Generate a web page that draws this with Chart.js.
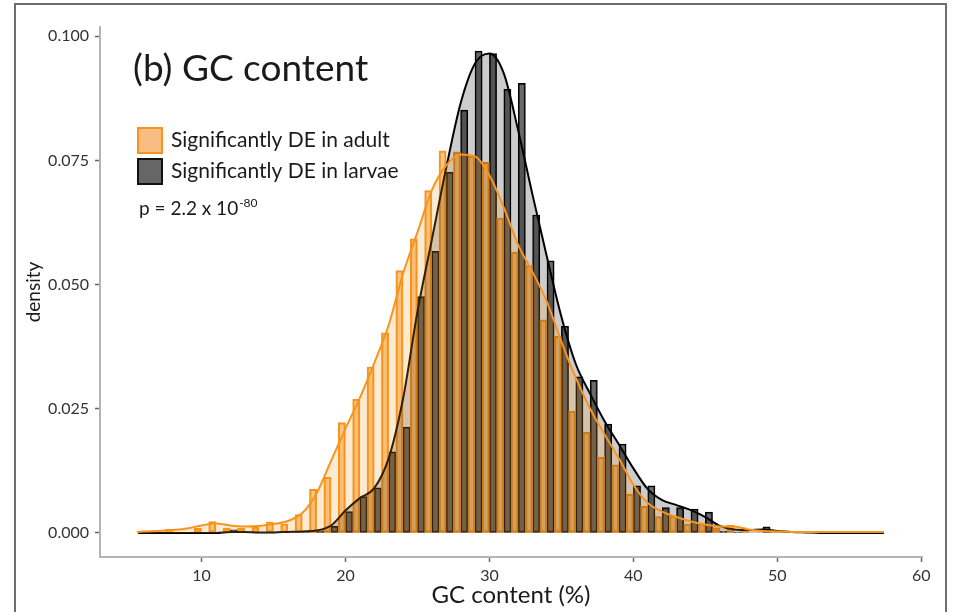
<!DOCTYPE html>
<html>
<head>
<meta charset="utf-8">
<title>GC content</title>
<script src="https://cdn.jsdelivr.net/npm/chart.js@4.4.1/dist/chart.umd.min.js"></script>
<style>
  html, body { margin: 0; padding: 0; background: #ffffff; }
  #wrap { width: 960px; height: 612px; }
</style>
</head>
<body>
<div id="wrap"><canvas id="gcChart" width="960" height="612"></canvas></div>
<script>
// histogram bins (width 1 %GC), centred on whole numbers
const binCenters = [6, 7, 8, 9, 10, 11, 12, 13, 14, 15, 16, 17, 18, 19, 20, 21, 22, 23, 24, 25, 26,
  27, 28, 29, 30, 31, 32, 33, 34, 35, 36, 37, 38, 39, 40, 41, 42, 43, 44, 45, 46, 47, 48, 49, 50,
  51, 52, 53, 54, 55, 56, 57];

const adultDensity = [0.0003, 0, 0.0007, 0, 0.0009, 0.0023, 0.0009, 0.0009, 0.0011, 0.0022, 0.0018,
  0.0037, 0.0088, 0.0112, 0.0222, 0.0269, 0.0334, 0.0403, 0.0528, 0.0592, 0.0689, 0.0769, 0.0767,
  0.0759, 0.0746, 0.0634, 0.0565, 0.0538, 0.0429, 0.0396, 0.0245, 0.0203, 0.0152, 0.0137, 0.0078,
  0.0054, 0.0033, 0.0034, 0.0018, 0.0018, 0.0010, 0.0016, 0.0003, 0, 0.0002, 0, 0.0003, 0, 0,
  0.0002, 0, 0.0002];

const larvaeDensity = [0, 0, 0, 0, 0, 0, 0.0006, 0, 0, 0, 0, 0.0001, 0.0004, 0.0013, 0.0043, 0.0073,
  0.0091, 0.0163, 0.0213, 0.0476, 0.0567, 0.0726, 0.0851, 0.0970, 0.0965, 0.0893, 0.0905, 0.0640,
  0.0548, 0.0416, 0.0314, 0.0307, 0.0219, 0.0179, 0.0095, 0.0095, 0.0051, 0.0051, 0.0048, 0.0042,
  0.0003, 0.0001, 0, 0.0012, 0, 0, 0, 0, 0, 0, 0, 0];

// smoothed density curves
const kdeX = [5.6, 6, 7, 8, 9, 10, 11, 12, 13, 14, 15, 16, 17, 18, 19, 20, 21, 22, 23, 24, 25, 26,
  27, 28, 29, 30, 31, 32, 33, 34, 35, 36, 37, 38, 39, 40, 41, 42, 43, 44, 45, 46, 47, 48, 49, 50,
  51, 52, 53, 54, 55, 56, 57, 57.4];

const adultKde = [0.0002, 0.0003, 0.0004, 0.0006, 0.0009, 0.0015, 0.0019, 0.0015, 0.0013, 0.0014,
  0.0018, 0.0024, 0.0040, 0.0080, 0.0145, 0.0210, 0.0272, 0.0342, 0.0418, 0.0522, 0.0605, 0.0690,
  0.0740, 0.0762, 0.0758, 0.0720, 0.0655, 0.0580, 0.0525, 0.0465, 0.0385, 0.0312, 0.0250, 0.0198,
  0.0150, 0.0097, 0.0060, 0.0043, 0.0032, 0.0023, 0.0017, 0.0013, 0.0013, 0.0007, 0.0004, 0.0003,
  0.0002, 0.0002, 0.0002, 0.0002, 0.0002, 0.0002, 0.0002, 0.0002];

const larvaeKde = [0, 0, 0, 0, 0, 0, 0, 0.0002, 0.0002, 0.0001, 0.0001, 0.0002, 0.0003, 0.0005,
  0.0015, 0.0045, 0.0070, 0.0090, 0.0150, 0.0270, 0.0445, 0.0590, 0.0735, 0.0865, 0.0945, 0.0965,
  0.0925, 0.0810, 0.0680, 0.0555, 0.0435, 0.0340, 0.0280, 0.0225, 0.0178, 0.0130, 0.0088, 0.0066,
  0.0056, 0.0046, 0.0032, 0.0014, 0.0007, 0.0006, 0.0007, 0.0004, 0.0002, 0.0001, 0, 0, 0, 0, 0, 0];

const xTicks = [10, 20, 30, 40, 50, 60];
const yTicks = [0, 0.025, 0.05, 0.075, 0.1];

const COLORS = {
  ORANGE: "#f7941d",
  ORANGE_BAR: "rgba(247, 148, 29, 0.5)",
  ORANGE_FILL: "rgba(247, 148, 29, 0.2)",
  GREY_BAR: "rgba(90, 90, 90, 0.9)",
  GREY_FILL: "rgba(0, 0, 0, 0.2)",
  BLACK: "#000000",
  TEXT: "#1a1a1a",
  TICK_TEXT: "#333333",
  AXIS: "#b4b4b4",
  TICK: "#666666",
  FRAME: "#6e6e6e"
};

const FONT = "Lato, 'Open Sans', sans-serif";
Chart.defaults.font.family = FONT;

function points(xs, ys) {
  return xs.map((x, i) => ({ x: x, y: ys[i] }));
}

// title, legend and p-value drawn inside the panel, plus the outer frame
const panelText = {
  id: "panelText",
  afterDraw(chart) {
    const ctx = chart.ctx;
    ctx.save();

    ctx.strokeStyle = COLORS.FRAME;
    ctx.lineWidth = 2;
    ctx.strokeRect(15, 4, 931, 700);

    ctx.fillStyle = COLORS.TEXT;
    ctx.textBaseline = "alphabetic";
    ctx.textAlign = "left";
    ctx.font = "37px " + FONT;
    ctx.fillText("(b) GC content", 133, 81);

    ctx.lineWidth = 2;
    ctx.fillStyle = "#f9bd83";
    ctx.strokeStyle = COLORS.ORANGE;
    ctx.fillRect(138, 128, 24, 25);
    ctx.strokeRect(138, 128, 24, 25);
    ctx.fillStyle = "#666666";
    ctx.strokeStyle = "#111111";
    ctx.fillRect(138, 159, 24, 25);
    ctx.strokeRect(138, 159, 24, 25);

    ctx.fillStyle = COLORS.TEXT;
    ctx.font = "21px " + FONT;
    ctx.textBaseline = "middle";
    ctx.fillText("Significantly DE in adult", 171, 140);
    ctx.fillText("Significantly DE in larvae", 171, 171);

    ctx.textBaseline = "alphabetic";
    ctx.font = "19px " + FONT;
    const base = "p = 2.2 x 10";
    ctx.fillText(base, 139, 215);
    const w = ctx.measureText(base).width;
    ctx.font = "12px " + FONT;
    ctx.fillText("-80", 139 + w + 1, 207);

    ctx.restore();
  }
};

new Chart(document.getElementById("gcChart").getContext("2d"), {
  type: "bar",
  data: {
    datasets: [
      {
        type: "line",
        label: "adult density",
        data: points(kdeX, adultKde),
        borderColor: COLORS.ORANGE,
        backgroundColor: COLORS.ORANGE_FILL,
        borderWidth: 2,
        pointRadius: 0,
        cubicInterpolationMode: "monotone",
        fill: "origin",
        order: 0
      },
      {
        type: "line",
        label: "larvae density",
        data: points(kdeX, larvaeKde),
        borderColor: COLORS.BLACK,
        backgroundColor: COLORS.GREY_FILL,
        borderWidth: 2,
        pointRadius: 0,
        cubicInterpolationMode: "monotone",
        fill: "origin",
        order: 1
      },
      {
        label: "Significantly DE in adult",
        data: points(binCenters, adultDensity),
        backgroundColor: COLORS.ORANGE_BAR,
        borderColor: COLORS.ORANGE,
        borderWidth: 1.5,
        borderSkipped: false,
        categoryPercentage: 1,
        barPercentage: 1,
        order: 2
      },
      {
        label: "Significantly DE in larvae",
        data: points(binCenters, larvaeDensity),
        backgroundColor: COLORS.GREY_BAR,
        borderColor: COLORS.BLACK,
        borderWidth: 1.5,
        borderSkipped: false,
        categoryPercentage: 1,
        barPercentage: 1,
        order: 3
      }
    ]
  },
  options: {
    responsive: false,
    animation: false,
    layout: {
      padding: { left: 0, right: 38, top: 27, bottom: 0 }
    },
    plugins: {
      legend: { display: false },
      tooltip: { enabled: false }
    },
    scales: {
      x: {
        type: "linear",
        min: 2.95,
        max: 60.05,
        offset: false,
        afterBuildTicks(scale) {
          scale.ticks = xTicks.map((v) => ({ value: v }));
        },
        afterFit(scale) {
          scale.height = 55;
        },
        ticks: {
          color: COLORS.TICK_TEXT,
          font: { size: 16 },
          padding: 4,
          maxRotation: 0,
          callback: (v) => String(v)
        },
        grid: {
          offset: false,
          drawOnChartArea: false,
          drawTicks: true,
          tickLength: 5,
          tickColor: COLORS.TICK,
          tickWidth: 1.5
        },
        border: { display: true, color: COLORS.AXIS, width: 2 },
        title: {
          display: true,
          text: "GC content (%)",
          color: COLORS.TEXT,
          font: { size: 24 },
          padding: { top: 0, bottom: 2 }
        }
      },
      y: {
        type: "linear",
        min: -0.00485,
        max: 0.10185,
        afterBuildTicks(scale) {
          scale.ticks = yTicks.map((v) => ({ value: v }));
        },
        afterFit(scale) {
          scale.width = 100;
        },
        ticks: {
          color: COLORS.TICK_TEXT,
          font: { size: 16 },
          padding: 6,
          callback: (v) => Number(v).toFixed(3)
        },
        grid: {
          drawOnChartArea: false,
          drawTicks: true,
          tickLength: 5,
          tickColor: COLORS.TICK,
          tickWidth: 1.5
        },
        border: { display: true, color: COLORS.AXIS, width: 2 },
        title: {
          display: true,
          text: "density",
          color: COLORS.TEXT,
          font: { size: 19 },
          padding: { top: 22, bottom: 0 }
        }
      }
    }
  },
  plugins: [panelText]
});
</script>
</body>
</html>
